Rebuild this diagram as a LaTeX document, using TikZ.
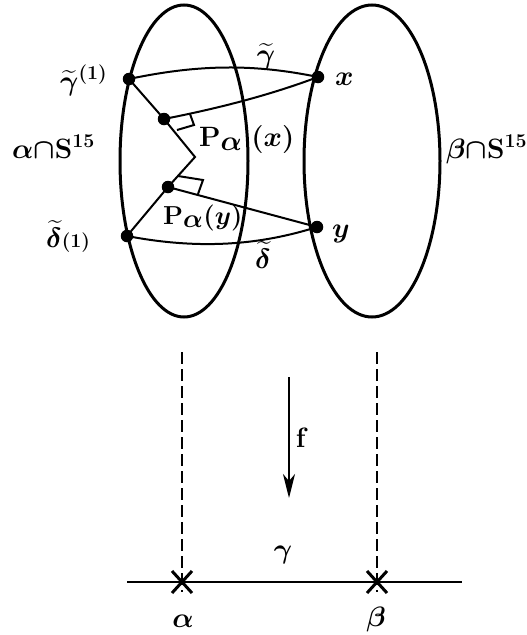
\RequirePackage{fix-cm}
\documentclass[tikz,border=0pt]{standalone}
\usepackage{amsmath}
\usetikzlibrary{arrows.meta}
\begin{document}
\begin{tikzpicture}[x=1pt,y=-1pt,
  thickline/.style={line width=3pt},
  thinline/.style={line width=2pt},
  dot/.style={circle,fill=black,inner sep=0pt,minimum size=12.5pt},
  lab/.style={inner sep=0pt,anchor=base west,font=\fontsize{28}{32}\selectfont\boldmath},
  labc/.style={lab,anchor=base},
  dashline/.style={line width=2pt,dash pattern=on 12pt off 5pt},
  crossline/.style={line width=3pt}]
\useasboundingbox (0,0) rectangle (527,635);
% spheres
\draw[thickline] (184,161) ellipse [x radius=64pt, y radius=156pt];
\draw[thickline] (372,161) ellipse [x radius=68pt, y radius=156pt];
% points
\node[dot] (g1) at (129,79) {};
\node[dot] (x) at (318,77) {};
\node[dot] (px) at (164,119) {};
\coordinate (z) at (195,157);
\node[dot] (py) at (168,187) {};
\node[dot] (d1) at (127,236) {};
\node[dot] (y) at (317,227) {};
% connectors
\draw[thinline] (g1.center) .. controls (200,64) and (255,64) .. (x.center);
\draw[thinline] (d1.center) .. controls (200,250) and (260,245) .. (y.center);
\draw[thinline] (g1.center) -- (px.center);
\draw[thinline] (px.center) .. controls (220,108) and (270,95) .. (x.center);
\draw[thinline] (px.center) -- (z) -- (py.center);
\draw[thinline] (py.center) -- (d1.center);
\draw[thinline] (py.center) -- (y.center);
% right-angle marks
\draw[thinline] (190,114) -- (194,125) -- (177,130);
\draw[thinline] (178,176) -- (203,180) -- (198,194);
% labels
\node[lab] (lg1) at (60,90) {$\widetilde{\gamma}^{(1)}$};
\node[lab] (ld1) at (46,247) {$\widetilde{\delta}{\scriptstyle(1)}$};
\node[lab] (la) at (12,158) {$\alpha{\cap}\mathrm{S}^{15}$};
\node[lab] (lb) at (446,158) {$\beta{\cap}\mathrm{S}^{15}$};
\node[lab] (lx) at (335,85) {$x$};
\node[lab] (ly) at (332,237) {$y$};
\node[lab] (lpx) at (199,146) {$\mathrm{P}_{\textstyle\alpha}\;(x)$};
\node[lab,font=\fontsize{26}{30}\selectfont\boldmath] (lpy) at (163,224) {$\mathrm{P}_{\textstyle\alpha}(y)$};
\node[labc] (lgt) at (266,63) {$\widetilde{\gamma}$};
\node[labc] (ldt) at (263,268) {$\widetilde{\delta}$};
% lower part
\coordinate (da1) at (182,352);
\coordinate (db1) at (377,352);
\coordinate (la0) at (127,582);
\coordinate (lb0) at (462,582);
\coordinate (ca) at (182,582);
\coordinate (cb) at (377,582);
\draw[dashline] (da1) -- ([yshift=-10pt]ca);
\draw[dashline] (db1) -- ([yshift=-10pt]cb);
\draw[thinline] (la0) -- (lb0);
\draw[crossline] ([shift={(-10,-11)}]ca) -- ([shift={(10,11)}]ca);
\draw[crossline] ([shift={(10,-11)}]ca) -- ([shift={(-10,11)}]ca);
\draw[crossline] ([shift={(-10,-11)}]cb) -- ([shift={(10,11)}]cb);
\draw[crossline] ([shift={(10,-11)}]cb) -- ([shift={(-10,11)}]cb);
\coordinate (ft) at (289,377);
\coordinate (fb) at (289,498);
\draw[thinline,-{Stealth[length=24pt,width=12pt,inset=7pt]}] (ft) -- (fb);
\node[labc] (lf) at (302,447) {$\mathrm{f}$};
\node[labc] (lgam) at (283,558) {$\gamma$};
\node[labc] (lal) at (183,627) {$\alpha$};
\node[labc] (lbe) at (376,626) {$\beta$};
\end{tikzpicture}
\end{document}
